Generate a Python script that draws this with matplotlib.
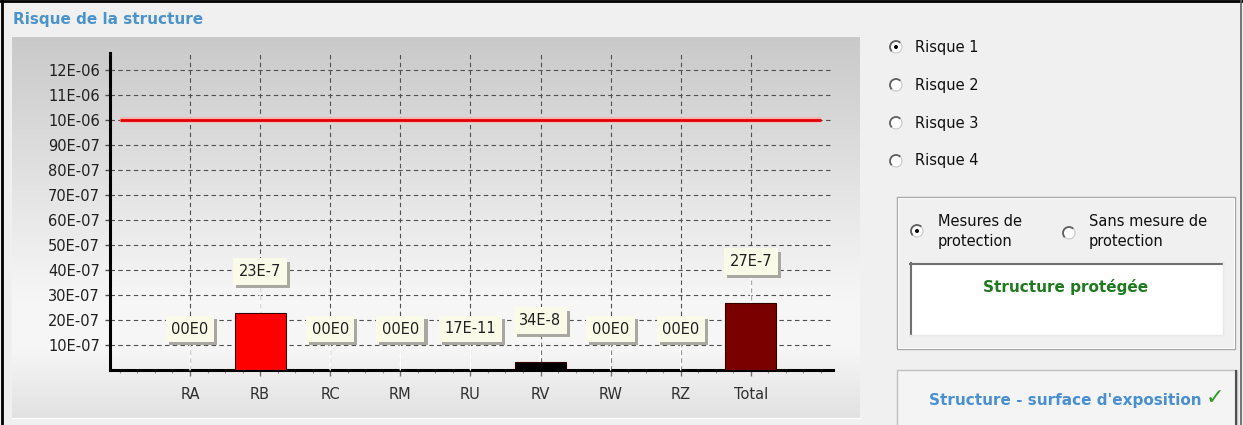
import numpy as np
import matplotlib
matplotlib.use('Agg')
import matplotlib.pyplot as plt
import matplotlib.patheffects as pe
from matplotlib.patches import Rectangle, Circle, Arc
from matplotlib.ticker import FixedLocator, MultipleLocator

# -------------------- données --------------------
categories = ['RA', 'RB', 'RC', 'RM', 'RU', 'RV', 'RW', 'RZ', 'Total']
risk_values = [0.0, 2.3e-6, 0.0, 0.0, 1.7e-10, 3.4e-7, 0.0, 0.0, 2.7e-6]
bar_colors = ['#ff0000', '#ff0000', '#ff0000', '#ff0000', '#ff0000',
              '#000000', '#ff0000', '#ff0000', '#7a0000']
tolerable_risk = 1.0e-5
y_ticks = [1e-6, 2e-6, 3e-6, 4e-6, 5e-6, 6e-6, 7e-6, 8e-6, 9e-6, 1e-5, 1.1e-5, 1.2e-5]
y_tick_labels = ['10E-07', '20E-07', '30E-07', '40E-07', '50E-07', '60E-07',
                 '70E-07', '80E-07', '90E-07', '10E-06', '11E-06', '12E-06']
risk_choices = ['Risque 1', 'Risque 2', 'Risque 3', 'Risque 4']


def fmt_risk(v):
    # format "mantisse à 2 chiffres" comme dans le logiciel
    if v == 0:
        return '00E0'
    e = int(np.floor(np.log10(v) + 1e-9)) - 1
    m = int(round(v / 10 ** e))
    return f'{m}E{e}'


W, H = 1243, 425
plt.rcParams['font.family'] = 'DejaVu Sans'
fig = plt.figure(figsize=(W / 100, H / 100), dpi=100, facecolor='#f0f0f0')

# fond en coordonnées pixels
bg = fig.add_axes([0, 0, 1, 1])
bg.set_xlim(0, W)
bg.set_ylim(H, 0)
bg.axis('off')

# cadre de la fenêtre
bg.plot([2, 2], [0, H], color='black', lw=2)
bg.plot([0, W], [1, 1], color='black', lw=2)
bg.plot([W - 2, W - 2], [0, H], color='#606060', lw=1.2)

# titre
bg.text(13, 19, 'Risque de la structure', color='#4a93cb', fontsize=11,
        fontweight='bold', va='center', ha='left')

# panneau du graphique avec dégradé
stops_y = [37, 120, 220, 300, 350, 418]
stops_g = [0.79, 0.845, 0.915, 0.965, 0.965, 0.885]
yy = np.linspace(37, 418, 200)
g = np.interp(yy, stops_y, stops_g)
grad = np.dstack([g, g, g]).reshape(200, 1, 3)
bg.imshow(grad, extent=(12, 860, 418, 37), aspect='auto', zorder=0)
bg.plot([12, 860], [418, 418], color='white', lw=1)
bg.set_xlim(0, W)
bg.set_ylim(H, 0)

# -------------------- graphique --------------------
px_unit = 70.1
x0_px = 190
ax = fig.add_axes([110 / W, (H - 370) / H, (833 - 110) / W, (370 - 53) / H])
ax.patch.set_visible(False)
x = np.arange(len(categories))
ax.set_xlim((110 - x0_px) / px_unit, (833 - x0_px) / px_unit)
ax.set_ylim(0, 317 / 25 * 1e-6)

ax.grid(True, which='major', color='#505050', linestyle=(0, (4, 3)), linewidth=0.8)
ax.set_axisbelow(True)

ax.hlines(tolerable_risk, -1, len(categories), color='#ffb0b0', lw=4, zorder=2)
ax.hlines(tolerable_risk, -1, len(categories), color='#e00000', lw=2, zorder=2)

ax.bar(x, risk_values, width=0.73, color=bar_colors, edgecolor='#300000',
       linewidth=0.8, zorder=3)

shadow = [pe.SimplePatchShadow(offset=(2.2, -2.2), shadow_rgbFace='#a8a8a0', alpha=1),
          pe.Normal()]
for xi, v in zip(x, risk_values):
    t = ax.annotate(fmt_risk(v), xy=(xi, v), xytext=(0, 41), textcoords='offset pixels',
                    ha='center', va='center', fontsize=10.5, color='#202020',
                    bbox=dict(boxstyle='square,pad=0.38', fc='#fafae8', ec='none'),
                    arrowprops=dict(arrowstyle='-', color='white', lw=1,
                                    shrinkA=0, shrinkB=0),
                    zorder=5)
    t.get_bbox_patch().set_path_effects(shadow)

for s in ['top', 'right']:
    ax.spines[s].set_visible(False)
for s in ['left', 'bottom']:
    ax.spines[s].set_color('black')
    ax.spines[s].set_linewidth(2.2)

ax.set_xticks(x)
ax.set_xticklabels(categories)
ax.xaxis.set_minor_locator(MultipleLocator(0.25))
ax.yaxis.set_major_locator(FixedLocator(y_ticks))
ax.set_yticklabels(y_tick_labels)
ax.tick_params(axis='x', which='major', length=4, width=1, color='#707070',
               labelsize=10.5, labelcolor='#303030', pad=8)
ax.tick_params(axis='x', which='minor', length=2.5, width=0.8, color='#909090')
ax.tick_params(axis='y', which='major', length=3.6, width=1, color='#505050',
               labelsize=10.5, labelcolor='#202020', pad=3.6)

# -------------------- panneau de droite --------------------
def radio(cx, cy, checked):
    bg.add_patch(Circle((cx, cy), 6, fc='white', ec='#c8c8c8', lw=0.8, zorder=3))
    bg.add_patch(Arc((cx, cy), 12, 12, theta1=135, theta2=315,
                     color='#606060', lw=1.3, zorder=4))
    if checked:
        bg.add_patch(Circle((cx, cy), 2, fc='black', ec='none', zorder=5))


for i, lab in enumerate(risk_choices):
    cy = 47 + 38 * i
    radio(896, cy, i == 0)
    bg.text(915, cy, lab, fontsize=10.5, va='center', ha='left', color='#101010')

# boîte "mesures"
bg.add_patch(Rectangle((897, 197), 338, 152, fill=False, ec='#a8a8a8', lw=1))
bg.add_patch(Rectangle((898, 198), 336, 150, fill=False, ec='white', lw=0.6))
radio(917, 231, True)
bg.text(938, 221, 'Mesures de', fontsize=10.5, va='center', ha='left', color='#101010')
bg.text(938, 241, 'protection', fontsize=10.5, va='center', ha='left', color='#101010')
radio(1069, 233, False)
bg.text(1089, 221, 'Sans mesure de', fontsize=10.5, va='center', ha='left', color='#101010')
bg.text(1089, 241, 'protection', fontsize=10.5, va='center', ha='left', color='#101010')

bg.add_patch(Rectangle((910, 263), 313, 72, fc='white', ec='none'))
bg.plot([910, 1223], [264, 264], color='#707070', lw=1.5)
bg.plot([911, 911], [263, 335], color='#707070', lw=1.5)
bg.plot([910, 1223], [335, 335], color='#e8e8e8', lw=1)
bg.plot([1223, 1223], [263, 335], color='#e8e8e8', lw=1)
bg.text(1066, 287, 'Structure protégée', fontsize=11, fontweight='bold',
        color='#1f7a1f', ha='center', va='center')

# bouton
bg.add_patch(Rectangle((897, 370), 340, 60, fc='#f4f4f4', ec='#c0c0c0', lw=1))
bg.plot([1236, 1236], [371, H], color='#505050', lw=1.5)
bg.text(929, 401, "Structure - surface d'exposition", fontsize=11, fontweight='bold',
        color='#4a90d0', ha='left', va='center')
bg.text(1206, 398, '\u2713', fontsize=16, color='#2a9a2a', ha='left', va='center')

fig.savefig('out.png', dpi=100, facecolor=fig.get_facecolor())
